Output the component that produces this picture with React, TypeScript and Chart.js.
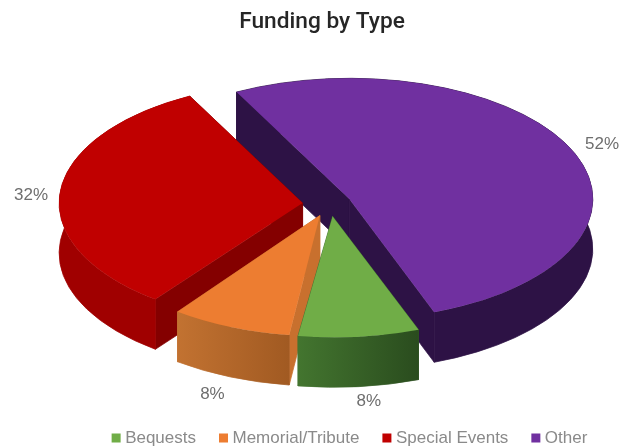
import React, { useEffect, useRef } from "react";
import { Chart, registerables } from "chart.js";

Chart.register(...registerables);

const categories = ["Bequests", "Memorial/Tribute", "Special Events", "Other"];
const shares = [8, 8, 32, 52];

const topColors = ["#70AD47", "#ED7D31", "#C00000", "#7030A0"];
const cutColors = ["#3F7030", "#C8702E", "#840000", "#2D1245"];
const rimFrom = ["#43752F", "#C27231", "#A00000", "#2D1245"];
const rimTo = ["#2A4C1E", "#A15A22", "#A00000", "#2D1245"];

const labelNudge = [
  [6.5, -1],
  [-6, 3],
  [2, 4],
  [2, 1],
];
const sliceNudgeX = [3.5, 7, 0, -1];
const tipNudgeX = [-1, -5, 0, 0];

const TILT = 0.496;
const DEPTH = 50;
const EXPLODE = 25;
const RADIUS = 243.5;
const SHIFT_X = 13;
const SHIFT_Y = -14;
const LABEL_GAP = 31;
const PAINT_ORDER = [3, 2, 1, 0];

// Draws each arc as a tilted, exploded slab using the angles the pie controller computed.
const tiltedPie = {
  id: "tiltedPie",
  beforeDraw(chart: any) {
    chart.titleBlock.left = 15;
    chart.legend.top = 402.5;
    chart.legend.left = 74;
  },
  beforeDatasetDraw() {
    return false;
  },
  afterDatasetsDraw(chart: any) {
    const { ctx } = chart;
    const arcs = chart.getDatasetMeta(0).data;

    const geometry = arcs.map((arc: any, i: number) => {
      const { x, y, startAngle, endAngle, outerRadius } = arc.getProps(
        ["x", "y", "startAngle", "endAngle", "outerRadius"],
        true
      );
      const mid = (startAngle + endAngle) / 2;
      return {
        apexX: x + SHIFT_X + sliceNudgeX[i] + Math.cos(mid) * EXPLODE,
        apexY: y + SHIFT_Y + Math.sin(mid) * EXPLODE * TILT,
        tipNudge: tipNudgeX[i],
        startAngle,
        endAngle,
        mid,
        r: outerRadius,
      };
    });

    ctx.save();
    ctx.lineWidth = 0.75;
    for (const i of PAINT_ORDER) {
      const { apexX, apexY, tipNudge, startAngle, endAngle, r } = geometry[i];
      const ry = r * TILT;
      const tipX = apexX + tipNudge;
      const edge = (a: number) => [apexX + Math.cos(a) * r, apexY + Math.sin(a) * ry];
      const [sx, sy] = edge(startAngle);
      const [ex, ey] = edge(endAngle);

      // Cut walls running back to the apex
      ctx.fillStyle = cutColors[i];
      ctx.strokeStyle = cutColors[i];
      for (const [wx, wy] of [[sx, sy], [ex, ey]]) {
        ctx.beginPath();
        ctx.moveTo(tipX, apexY);
        ctx.lineTo(wx, wy);
        ctx.lineTo(wx, wy + DEPTH);
        ctx.lineTo(tipX, apexY + DEPTH);
        ctx.closePath();
        ctx.fill();
        ctx.stroke();
      }

      // Outer rim wall
      const rimFill = ctx.createLinearGradient(Math.min(sx, ex), 0, Math.max(sx, ex), 0);
      rimFill.addColorStop(0, rimFrom[i]);
      rimFill.addColorStop(1, rimTo[i]);
      ctx.beginPath();
      ctx.ellipse(apexX, apexY, r, ry, 0, startAngle, endAngle);
      ctx.ellipse(apexX, apexY + DEPTH, r, ry, 0, endAngle, startAngle, true);
      ctx.closePath();
      ctx.fillStyle = rimFill;
      ctx.strokeStyle = rimFill;
      ctx.fill();
      ctx.stroke();

      // Top face
      ctx.beginPath();
      ctx.moveTo(tipX, apexY);
      ctx.ellipse(apexX, apexY, r, ry, 0, startAngle, endAngle);
      ctx.closePath();
      ctx.fillStyle = topColors[i];
      ctx.fill();
    }

    // Percentage labels outside the rim
    ctx.font = '17px "Liberation Sans"';
    ctx.fillStyle = "#6E6E6E";
    ctx.textAlign = "center";
    ctx.textBaseline = "middle";
    geometry.forEach((g: any, i: number) => {
      const reach = g.r + LABEL_GAP;
      const frontDrop = Math.sin(g.mid) > 0.5 ? DEPTH : 0;
      const lx = g.apexX + Math.cos(g.mid) * reach + labelNudge[i][0];
      const ly = g.apexY + Math.sin(g.mid) * reach * TILT + frontDrop + labelNudge[i][1];
      ctx.fillText(`${shares[i]}%`, lx, ly);
    });
    ctx.restore();
  },
};

export default function App() {
  const canvasRef = useRef<HTMLCanvasElement>(null);

  useEffect(() => {
    const chart = new Chart(canvasRef.current!, {
      type: "pie",
      plugins: [tiltedPie],
      data: {
        labels: categories,
        datasets: [{ data: shares, backgroundColor: topColors, borderWidth: 0 }],
      },
      options: {
        responsive: false,
        animation: false,
        rotation: 159.6,
        radius: RADIUS,
        layout: { padding: { bottom: 0 } },
        plugins: {
          tooltip: { enabled: false },
          title: {
            display: true,
            text: "Funding by Type",
            color: "#262626",
            font: { family: "Roboto", size: 22.7, weight: 500 },
            padding: { top: 9, bottom: 8 },
          },
          legend: {
            position: "bottom",
            labels: {
              boxWidth: 1,
              boxHeight: 1,
              padding: 27,
              color: "#8A8A8A",
              font: { family: "Liberation Sans", size: 17 },
              generateLabels: (c: any) =>
                categories.map((text, index) => ({
                  text,
                  index,
                  fillStyle: topColors[index],
                  strokeStyle: topColors[index],
                  lineWidth: 8,
                  lineJoin: "miter",
                  fontColor: "#8A8A8A",
                  hidden: !c.getDataVisibility(index),
                })),
            },
          },
        },
      },
    });
    return () => chart.destroy();
  }, []);

  return (
    <div style={{ position: "absolute", left: 0, top: 0, width: 629, height: 446, background: "#fff", overflow: "hidden" }}>
      <canvas ref={canvasRef} width={629} height={446} style={{ display: "block" }} />
    </div>
  );
}
